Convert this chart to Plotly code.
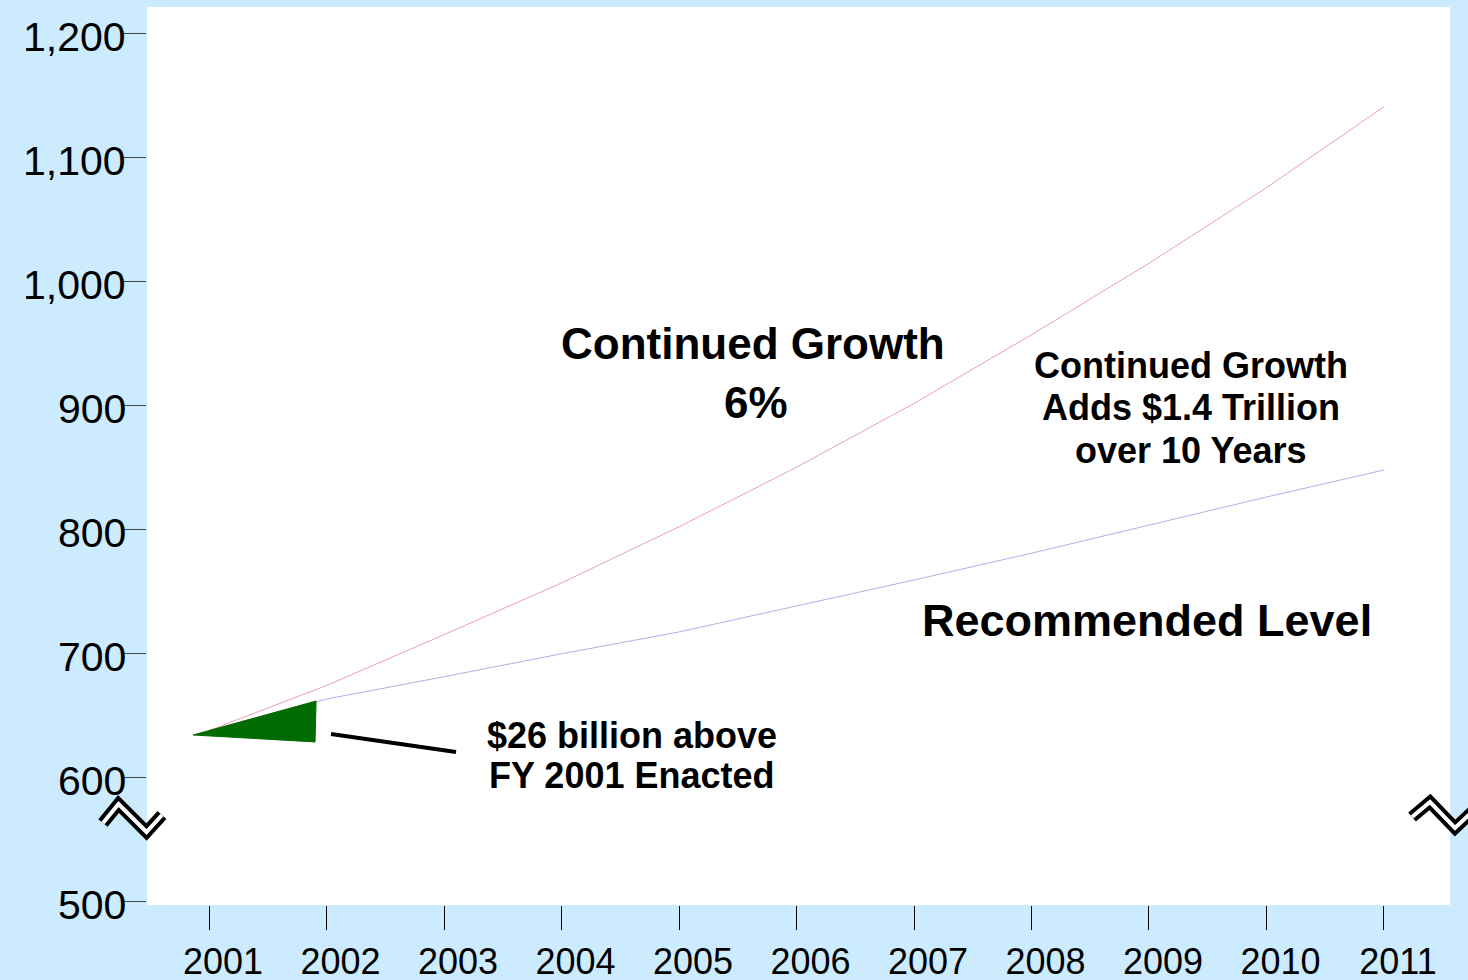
import plotly.graph_objects as go

# ---- data ----
years = [2001, 2002, 2003, 2004, 2005, 2006, 2007, 2008, 2009, 2010, 2011]
continued_growth = [637.7, 674.0, 715.0, 756.7, 802.0, 850.0, 901.5, 956.9, 1014.5, 1075.5, 1140.8]
recommended = [637.7, 663.1, 681.1, 699.6, 717.2, 738.1, 759.1, 780.7, 803.5, 826.0, 847.8]

# wedge showing the increase over FY 2001 enacted
tri_x = [2000.864, 2001.911, 2001.902, 2000.864]
tri_y = [634.1, 661.5, 628.5, 634.1]

y_tickvals = [500, 600, 700, 800, 900, 1000, 1100, 1200]
y_ticktext = ["500", "600", "700", "800", "900", "1,000", "1,100", "1,200"]
x_tickvals = years
x_ticktext = [str(y) for y in years]

X_RANGE = [2000.472, 2011.562]
Y_RANGE = [497.0, 1221.2]

BG = "#CCEBFF"
FONT = "Liberation Sans"

# figure geometry (pixels)
W, H = 1468, 980
L, R, T, B = 147, 18, 7, 75
PW, PH = W - L - R, H - T - B


def px(xp):
    """pixel x -> data x"""
    return X_RANGE[0] + (xp - L) / PW * (X_RANGE[1] - X_RANGE[0])


def py(yp):
    """pixel y -> data y"""
    return Y_RANGE[1] - (yp - T) / PH * (Y_RANGE[1] - Y_RANGE[0])


def ppx(xp):
    return (xp - L) / PW


def ppy(yp):
    return (H - B - yp) / PH


fig = go.Figure()

fig.add_trace(go.Scatter(
    x=years, y=continued_growth, mode="lines",
    line=dict(color="#E8A2B4", width=1), name="Continued Growth 6%",
    hoverinfo="x+y"))
fig.add_trace(go.Scatter(
    x=years, y=recommended, mode="lines",
    line=dict(color="#BFA8E6", width=1), name="Recommended Level",
    hoverinfo="x+y"))
fig.add_trace(go.Scatter(
    x=tri_x, y=tri_y, mode="lines", fill="toself",
    fillcolor="#006B00", line=dict(color="#006B00", width=1),
    name="$26 billion above FY 2001 Enacted", hoverinfo="skip"))

annotations = []


def label(text, xp, yp, size):
    annotations.append(dict(
        text=text, x=px(xp), y=py(yp), xref="x", yref="y",
        showarrow=False, xanchor="center", yanchor="middle",
        font=dict(family=FONT, size=size, color="black", weight="bold")))


label("Continued Growth", 753, 343, 44)
label("6%", 756, 402, 44)
label("Continued Growth", 1191, 365, 36)
label("Adds $1.4 Trillion", 1191, 407, 36)
label("over 10 Years", 1191, 450, 36)
label("Recommended Level", 1147, 620, 45)
label("$26 billion above", 632, 735, 36)
label("FY 2001 Enacted", 632, 775, 36)

# y tick labels (placed tight against the tick marks)
for v, t in zip(y_tickvals, y_ticktext):
    annotations.append(dict(
        text=t, x=ppx(128), y=v, xref="paper", yref="y",
        showarrow=False, xanchor="right", yanchor="middle", yshift=-4,
        font=dict(family=FONT, size=41, color="black")))

shapes = []
# pointer line
shapes.append(dict(type="line", xref="x", yref="y",
                   x0=px(331), y0=py(734), x1=px(456), y1=py(752),
                   line=dict(color="black", width=4)))


def zig(points):
    path = "M " + " L ".join(f"{ppx(a):.5f},{ppy(b):.5f}" for a, b in points)
    shapes.append(dict(type="path", xref="paper", yref="paper", path=path,
                       line=dict(color="black", width=12)))
    shapes.append(dict(type="path", xref="paper", yref="paper", path=path,
                       line=dict(color="white", width=4)))


# axis break symbols
zig([(103, 823), (118.5, 804), (146.5, 832), (162, 815)])
zig([(1412, 817), (1430, 802), (1455, 828), (1472, 812)])

fig.update_layout(
    width=W, height=H,
    margin=dict(l=L, r=R, t=T, b=B, pad=0, autoexpand=False),
    paper_bgcolor=BG, plot_bgcolor="white",
    showlegend=False,
    font=dict(family=FONT, color="black"),
    annotations=annotations,
    shapes=shapes,
    xaxis=dict(
        range=X_RANGE, tickmode="array", tickvals=x_tickvals, ticktext=x_ticktext,
        ticks="outside", ticklen=24, tickwidth=1, tickcolor="black",
        showgrid=False, zeroline=False, showline=False, automargin=False,
        tickfont=dict(family=FONT, size=36, color="black"),
        ticklabelstandoff=1, ticklabelshift=14,
    ),
    yaxis=dict(
        range=Y_RANGE, tickmode="array", tickvals=y_tickvals,
        showticklabels=False,
        ticks="outside", ticklen=24, tickwidth=1, tickcolor="#444444",
        showgrid=False, zeroline=False, showline=False, automargin=False,
    ),
)

fig.write_html("out.html")
